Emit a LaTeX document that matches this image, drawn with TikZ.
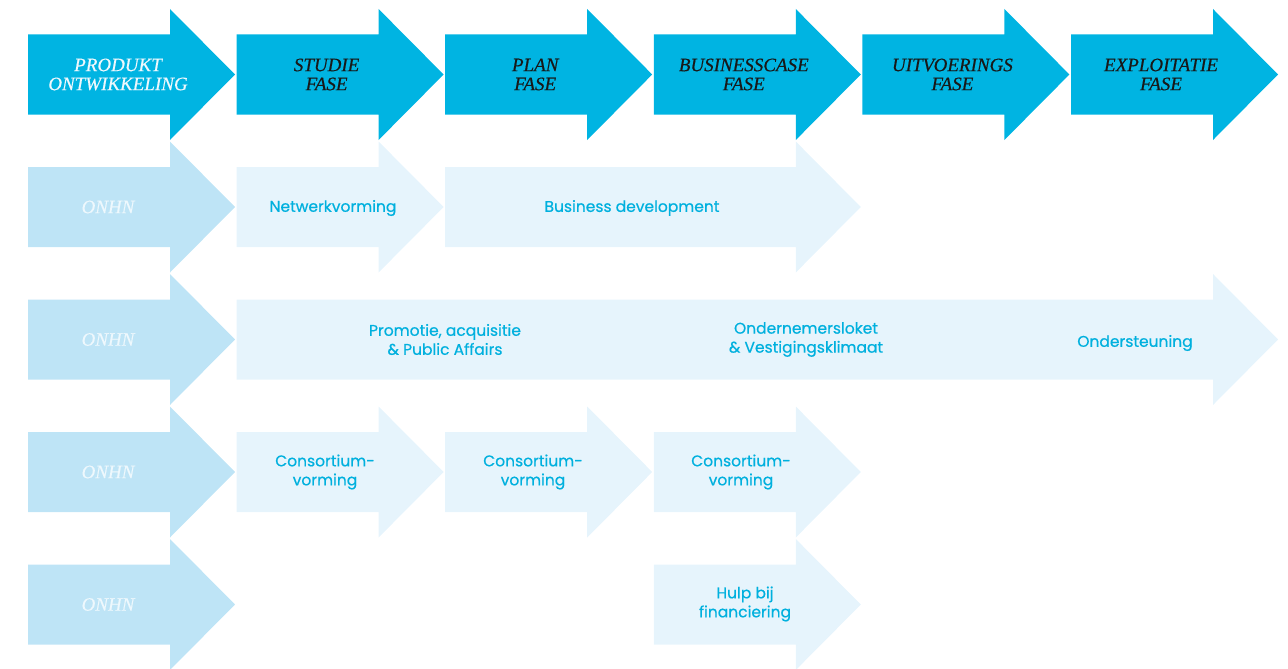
\documentclass[tikz,border=0pt]{standalone}
\usepackage{fontspec}
\newfontfamily\pijlfont[FakeBold=0.6]{Poppins}
\newfontfamily\fasefont[FakeBold=0.4]{Liberation Serif}
\definecolor{fase}{RGB}{0,180,226}
\definecolor{onhn}{RGB}{190,228,246}
\definecolor{bleek}{RGB}{230,244,252}
\definecolor{labeltekst}{RGB}{0,176,222}
\definecolor{onhntekst}{RGB}{238,248,253}
\definecolor{fasetekst}{RGB}{24,24,24}
% pijl: kleur, begin x, punt x, midden y
\newcommand{\pijl}[4]{%
  \fill[#1] (#2,#4-40) -- (#3-65,#4-40) -- (#3-65,#4-65.5) -- (#3,#4)
    -- (#3-65,#4+65.5) -- (#3-65,#4+40) -- (#2,#4+40) -- cycle;}
\begin{document}
\begin{tikzpicture}[x=1pt,y=-1pt]
      \useasboundingbox (0,0) rectangle (1288,669);

      % fasen
      \pijl{fase}{28}{235}{74.5}
      \pijl{fase}{236.6}{443.6}{74.5}
      \pijl{fase}{445.2}{652.2}{74.5}
      \pijl{fase}{653.8}{860.8}{74.5}
      \pijl{fase}{862.4}{1069.4}{74.5}
      \pijl{fase}{1071}{1278}{74.5}

      % ONHN
      \pijl{onhn}{28}{235}{207}
      \pijl{onhn}{28}{235}{339.5}
      \pijl{onhn}{28}{235}{472}
      \pijl{onhn}{28}{235}{604.5}

      % activiteiten
      \pijl{bleek}{236.6}{443.6}{207}
      \pijl{bleek}{445.2}{860.8}{207}
      \pijl{bleek}{236.6}{1278}{339.5}
      \pijl{bleek}{236.6}{443.6}{472}
      \pijl{bleek}{445.2}{652.2}{472}
      \pijl{bleek}{653.8}{860.8}{472}
      \pijl{bleek}{653.8}{860.8}{604.5}

      \begin{scope}[every node/.style={align=center,inner sep=0pt,
          font=\fasefont\fontsize{19}{19}\selectfont\itshape,text=fasetekst}]
        \node[text=onhntekst] (produkt) at (118,74.5) {PRODUKT\\ONTWIKKELING};
        \node (studie)    at (326.6,74.5)  {STUDIE\\FASE};
        \node (plan)      at (535.2,74.5)  {PLAN\\FASE};
        \node (business)  at (743.8,74.5)  {BUSINESSCASE\\FASE};
        \node (uitvoering) at (952.4,74.5) {UITVOERINGS\\FASE};
        \node (exploitatie) at (1161,74.5) {EXPLOITATIE\\FASE};
      \end{scope}

      \begin{scope}[every node/.style={inner sep=0pt,
          font=\fasefont\fontsize{19}{19}\selectfont\itshape,text=onhntekst}]
        \node (onhn1) at (108,207)   {ONHN};
        \node (onhn2) at (108,339.5) {ONHN};
        \node (onhn3) at (108,472)   {ONHN};
        \node (onhn4) at (108,604.5) {ONHN};
      \end{scope}

      \begin{scope}[every node/.style={align=center,inner sep=0pt,
          font=\pijlfont\fontsize{15.5}{19}\selectfont,text=labeltekst}]
        \node (netwerk)    at (333,208)   {Netwerkvorming};
        \node (busdev)     at (632,208)   {Business development};
        \node (promotie)   at (445,339.5) {Promotie, acquisitie\\\& Public Affairs};
        \node (loket)      at (806,339.5) {Ondernemersloket\\\& Vestigingsklimaat};
        \node (steun)      at (1135,343)  {Ondersteuning};
        \node (consort1)   at (325,472)   {Consortium-\\vorming};
        \node (consort2)   at (533,472)   {Consortium-\\vorming};
        \node (consort3)   at (741,472)   {Consortium-\\vorming};
        \node (hulp)       at (745,604)   {Hulp bij\\financiering};
      \end{scope}

    \end{tikzpicture}
\end{document}
